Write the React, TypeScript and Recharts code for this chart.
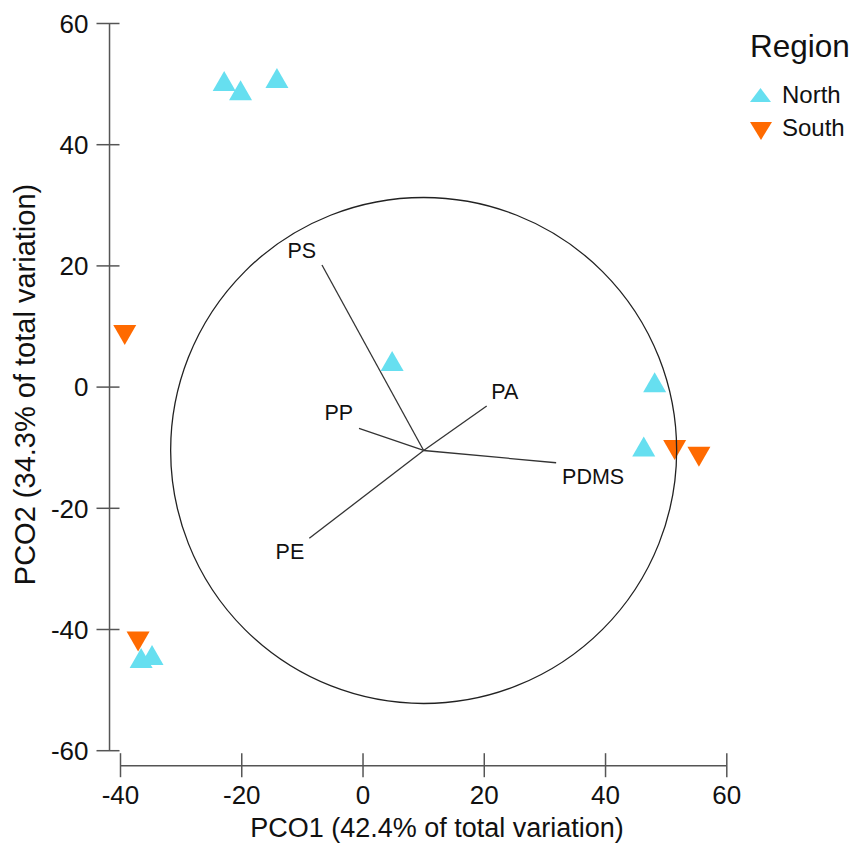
import React from 'react';
import { ScatterChart, Scatter, XAxis, YAxis, ReferenceLine, ReferenceDot, Legend } from 'recharts';

const FONT = '"Liberation Sans", Arial, sans-serif';
const NORTH_COLOR = '#66DFF0';
const SOUTH_COLOR = '#FF6A00';

const xTicks = [-40, -20, 0, 20, 40, 60];
const yTicks = [-60, -40, -20, 0, 20, 40, 60];

const northPoints = [
  { x: -22.9, y: 50.5 },
  { x: -20.2, y: 49.0 },
  { x: -14.2, y: 51.0 },
  { x: 4.8, y: 4.3 },
  { x: 48.1, y: 0.8 },
  { x: 46.3, y: -9.8 },
  { x: -36.6, y: -44.7 },
  { x: -34.8, y: -44.2 },
];

const southPoints = [
  { x: 51.4, y: -10.4 },
  { x: 55.4, y: -11.5 },
  { x: -37.1, y: -42.0 },
  { x: -39.3, y: 8.6 },
];

// vector origin and circle
const origin = { x: 10, y: -10.46 };
const circleRadiusPx = 253;

// vector tips and where their names sit
const vectors = [
  { name: 'PS', x: -6.77, y: 20.15, lx: -10.1, ly: 22.6 },
  { name: 'PP', x: -0.66, y: -6.8, lx: -4.0, ly: -4.1 },
  { name: 'PA', x: 20.4, y: -3.12, lx: 23.4, ly: -0.64 },
  { name: 'PDMS', x: 31.85, y: -12.48, lx: 37.95, ly: -14.67 },
  { name: 'PE', x: -8.86, y: -24.95, lx: -12.05, ly: -27.05 },
];

const vectorLabels = vectors.map((v) => ({ x: v.lx, y: v.ly, name: v.name }));

const UpTriangle = (props: any) => {
  const { cx, cy } = props;
  return (
    <polygon
      points={`${cx},${cy - 10} ${cx - 11.5},${cy + 10} ${cx + 11.5},${cy + 10}`}
      fill={NORTH_COLOR}
    />
  );
};

const DownTriangle = (props: any) => {
  const { cx, cy } = props;
  return (
    <polygon
      points={`${cx - 11.5},${cy - 10} ${cx + 11.5},${cy - 10} ${cx},${cy + 10}`}
      fill={SOUTH_COLOR}
    />
  );
};

const VectorName = (props: any) => {
  const { cx, cy, payload } = props;
  return (
    <text x={cx} y={cy} textAnchor="middle" dy="0.36em" fontSize={21.5} fontFamily={FONT} fill="#111">
      {payload.name}
    </text>
  );
};

const XTick = (props: any) => {
  const { x, y, payload } = props;
  return (
    <g>
      <line x1={x} x2={x} y1={y + 2.5} y2={y + 26.5} stroke="#555" strokeWidth={1.5} />
      <text x={x} y={y + 53} textAnchor="middle" fontSize={26} fontFamily={FONT} fill="#111">
        {payload.value}
      </text>
    </g>
  );
};

const YTick = (props: any) => {
  const { x, y, payload } = props;
  return (
    <g>
      <line x1={x - 24} x2={x - 1} y1={y} y2={y} stroke="#555" strokeWidth={1.5} />
      <text x={x - 32} y={y} dy="0.36em" textAnchor="end" fontSize={26} fontFamily={FONT} fill="#111">
        {payload.value}
      </text>
    </g>
  );
};

const XTitle = () => (
  <text x={437} y={837} textAnchor="middle" fontSize={27} fontFamily={FONT} fill="#111">
    PCO1 (42.4% of total variation)
  </text>
);

const YTitle = () => (
  <text
    x={35}
    y={384.5}
    transform="rotate(-90 35 384.5)"
    textAnchor="middle"
    fontSize={29}
    fontFamily={FONT}
    fill="#111"
  >
    PCO2 (34.3% of total variation)
  </text>
);

const RegionLegend = () => (
  <svg width={117} height={130} style={{ display: 'block' }}>
    <text x={10} y={37} fontSize={31.5} fontFamily={FONT} fill="#111">Region</text>
    <polygon points="10,82 31,82 20.5,68" fill={NORTH_COLOR} />
    <text x={42} y={83} fontSize={24} fontFamily={FONT} fill="#111">North</text>
    <polygon points="10,102 32,102 21,120" fill={SOUTH_COLOR} />
    <text x={42} y={116} fontSize={24} fontFamily={FONT} fill="#111">South</text>
  </svg>
);

export default function App() {
  return (
    <div style={{ position: 'absolute', left: 0, top: 0, width: 857, height: 847, background: '#fff' }}>
      <ScatterChart
        width={857}
        height={847}
        margin={{ top: 23.5, right: 130.2, bottom: 0, left: 0 }}
      >
        <XAxis
          type="number"
          dataKey="x"
          domain={[-40, 60]}
          ticks={xTicks}
          axisLine={false}
          tickLine={false}
          tickSize={0}
          tickMargin={0}
          height={96.3}
          tick={<XTick />}
          label={<XTitle />}
        />
        <YAxis
          type="number"
          dataKey="y"
          domain={[-60, 60]}
          ticks={yTicks}
          axisLine={false}
          tickLine={false}
          tickSize={0}
          tickMargin={0}
          width={120.5}
          tick={<YTick />}
          label={<YTitle />}
        />
        <ReferenceLine
          segment={[{ x: -40, y: -62.48 }, { x: 60, y: -62.48 }]}
          stroke="#555"
          strokeWidth={1.5}
          ifOverflow="visible"
        />
        <ReferenceLine
          segment={[{ x: -41.81, y: -60 }, { x: -41.81, y: 60 }]}
          stroke="#555"
          strokeWidth={1.5}
          ifOverflow="visible"
        />
        {vectors.map((v) => (
          <ReferenceLine
            key={v.name}
            segment={[{ x: origin.x, y: origin.y }, { x: v.x, y: v.y }]}
            stroke="#333"
            strokeWidth={1.3}
            ifOverflow="visible"
          />
        ))}
        <Scatter name="South" data={southPoints} shape={<DownTriangle />} isAnimationActive={false} />
        <Scatter name="North" data={northPoints} shape={<UpTriangle />} isAnimationActive={false} />
        <Scatter name="labels" data={vectorLabels} shape={<VectorName />} isAnimationActive={false} legendType="none" />
        <ReferenceDot
          x={origin.x}
          y={origin.y}
          r={circleRadiusPx}
          fill="none"
          stroke="#222"
          strokeWidth={1.3}
          ifOverflow="visible"
        />
        <Legend
          layout="vertical"
          align="center"
          verticalAlign="middle"
          content={<RegionLegend />}
          wrapperStyle={{ left: 740, top: 20, width: 117, height: 130 }}
        />
      </ScatterChart>
    </div>
  );
}
